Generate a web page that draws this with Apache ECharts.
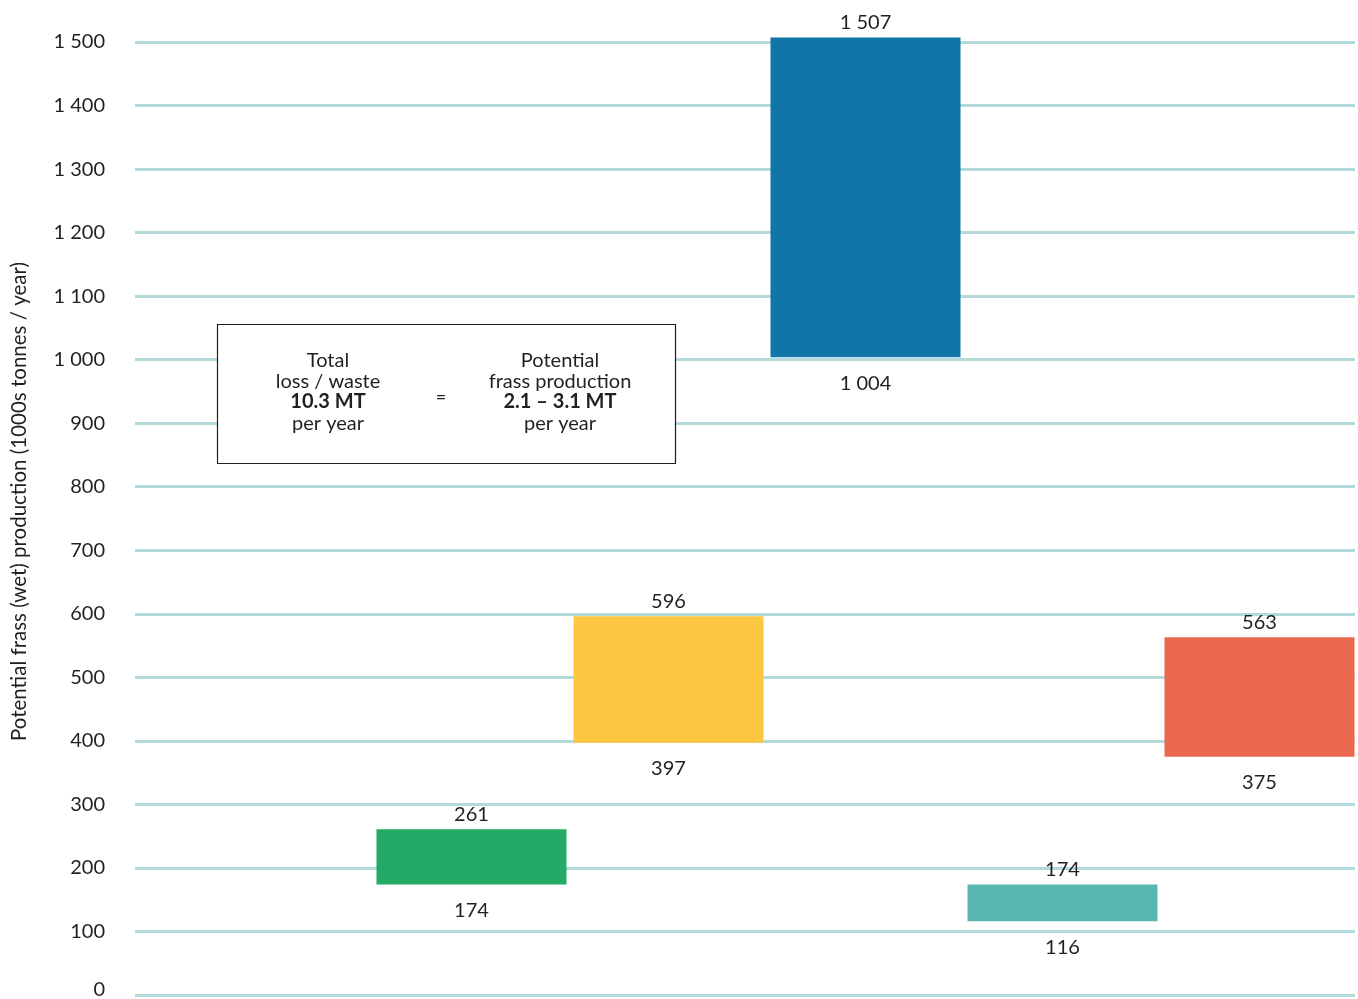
<!DOCTYPE html>
<html>
<head>
<meta charset="utf-8">
<script src="https://cdn.jsdelivr.net/npm/echarts@6/dist/echarts.min.js"></script>
<style>
html,body{margin:0;padding:0;background:#fff;}
#chart{width:1358px;height:999px;}
</style>
</head>
<body>
<div id="chart"></div>
<script>
// Data
const categories = ['', 'Group 1', 'Group 2', 'Group 3', 'Group 4', 'Group 5'];
const lowValues  = [null, 174, 397, 1004, 116, 375];
const highValues = [null, 261, 596, 1507, 174, 563];
const barColors  = [null, '#22AB67', '#FDC741', '#1275A8', '#59B7B2', '#EA6750'];
const yTicks = { min: 0, max: 1500, interval: 100 };

function fmt(v) {
  return String(v).replace(/\B(?=(\d{3})+(?!\d))/g, ' ');
}

const FONT = 'Lato';
const chart = echarts.init(document.getElementById('chart'), null, { renderer: 'canvas' });

const spanData = highValues.map((h, i) => h == null ? null : {
  value: h - lowValues[i],
  itemStyle: { color: barColors[i] },
  label: { formatter: fmt(h) }
});
const baseData = lowValues.map(l => l == null ? null : {
  value: l,
  label: { formatter: fmt(l) }
});

const option = {
  backgroundColor: '#ffffff',
  animation: false,
  textStyle: { fontFamily: FONT },
  grid: [
    { left: 135, right: 3, top: 42, bottom: 4, containLabel: false, outerBoundsMode: 'none' },
    { left: 176, right: 0, top: 42, bottom: 4, containLabel: false, outerBoundsMode: 'none' }
  ],
  xAxis: [
    { type: 'category', gridIndex: 0, data: categories, show: false },
    { type: 'category', gridIndex: 1, data: categories, show: false }
  ],
  yAxis: [
    {
      type: 'value', gridIndex: 0,
      min: yTicks.min, max: yTicks.max, interval: yTicks.interval,
      axisLine: { show: false }, axisTick: { show: false },
      axisLabel: {
        margin: 30, fontSize: 20, color: '#231f20', fontFamily: FONT,
        formatter: v => v === 0 ? '{z|0}' : fmt(v),
        rich: { z: { fontSize: 20, color: '#231f20', fontFamily: FONT, padding: [0, 0, 10, 0] } }
      },
      splitLine: { lineStyle: { color: '#B2DADA', width: 3 } },
      name: 'Potential frass (wet) production (1000s tonnes / year)',
      nameLocation: 'middle', nameGap: 105, nameRotate: 90,
      nameTextStyle: { fontSize: 20.5, color: '#231f20', fontFamily: FONT, padding: [0, 0, 0, 34] }
    },
    {
      type: 'value', gridIndex: 1,
      min: yTicks.min, max: yTicks.max, interval: yTicks.interval,
      show: false, splitLine: { show: false }
    }
  ],
  series: [
    {
      type: 'bar', xAxisIndex: 1, yAxisIndex: 1, stack: 'range',
      data: baseData, barWidth: 190, clip: false,
      itemStyle: { color: 'rgba(0,0,0,0)' },
      label: {
        show: true, position: 'insideTop', distance: 16,
        fontSize: 20, color: '#231f20', fontFamily: FONT
      },
      emphasis: { disabled: true },
      silent: true, z: 3
    },
    {
      type: 'bar', xAxisIndex: 1, yAxisIndex: 1, stack: 'range',
      data: spanData, barWidth: 190, clip: false,
      label: {
        show: true, position: 'top', distance: 5,
        fontSize: 20, color: '#231f20', fontFamily: FONT
      },
      emphasis: { disabled: true },
      z: 3
    }
  ],
  graphic: [
    {
      type: 'rect', z: 100,
      shape: { x: 217.5, y: 324.5, width: 458, height: 139 },
      style: { fill: '#ffffff', stroke: '#231f20', lineWidth: 1.2 }
    },
    { type: 'text', z: 101, x: 328, y: 361, style: { text: 'Total', font: '20px Lato', fill: '#231f20', textAlign: 'center', textVerticalAlign: 'middle' } },
    { type: 'text', z: 101, x: 328, y: 382, style: { text: 'loss / waste', font: '20px Lato', fill: '#231f20', textAlign: 'center', textVerticalAlign: 'middle' } },
    { type: 'text', z: 101, x: 328, y: 402, style: { text: '10.3 MT', font: 'bold 20px Lato', fill: '#231f20', textAlign: 'center', textVerticalAlign: 'middle' } },
    { type: 'text', z: 101, x: 328, y: 424, style: { text: 'per year', font: '20px Lato', fill: '#231f20', textAlign: 'center', textVerticalAlign: 'middle' } },
    { type: 'text', z: 101, x: 441, y: 397, style: { text: '=', font: '18px Lato', fill: '#231f20', textAlign: 'center', textVerticalAlign: 'middle' } },
    { type: 'text', z: 101, x: 560, y: 361, style: { text: 'Potential', font: '20px Lato', fill: '#231f20', textAlign: 'center', textVerticalAlign: 'middle' } },
    { type: 'text', z: 101, x: 560, y: 382, style: { text: 'frass production', font: '20px Lato', fill: '#231f20', textAlign: 'center', textVerticalAlign: 'middle' } },
    { type: 'text', z: 101, x: 560, y: 402, style: { text: '2.1 \u2013 3.1 MT', font: 'bold 20px Lato', fill: '#231f20', textAlign: 'center', textVerticalAlign: 'middle' } },
    { type: 'text', z: 101, x: 560, y: 424, style: { text: 'per year', font: '20px Lato', fill: '#231f20', textAlign: 'center', textVerticalAlign: 'middle' } }
  ]
};
chart.setOption(option);
</script>
</body>
</html>
